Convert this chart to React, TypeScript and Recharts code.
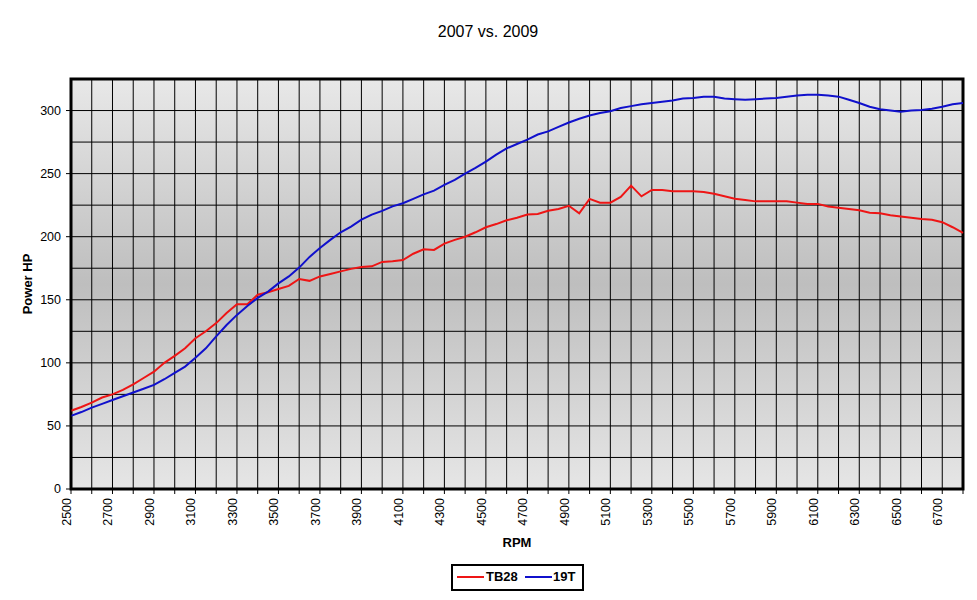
// @ts-nocheck
import { LineChart, Line, XAxis, YAxis, CartesianGrid, ReferenceArea } from 'recharts';

const rpm = [
  2500, 2550, 2600, 2650, 2700, 2750, 2800, 2850, 2900, 2950,
  3000, 3050, 3100, 3150, 3200, 3250, 3300, 3350, 3400, 3450,
  3500, 3550, 3600, 3650, 3700, 3750, 3800, 3850, 3900, 3950,
  4000, 4050, 4100, 4150, 4200, 4250, 4300, 4350, 4400, 4450,
  4500, 4550, 4600, 4650, 4700, 4750, 4800, 4850, 4900, 4950,
  5000, 5050, 5100, 5150, 5200, 5250, 5300, 5350, 5400, 5450,
  5500, 5550, 5600, 5650, 5700, 5750, 5800, 5850, 5900, 5950,
  6000, 6050, 6100, 6150, 6200, 6250, 6300, 6350, 6400, 6450,
  6500, 6550, 6600, 6650, 6700, 6750, 6800,
];

const tb28 = [
  62, 65, 68.5, 72.5, 75, 78.5, 83, 88, 93, 100,
  105.5, 111.5, 119.5, 125, 131.5, 139.5, 146.5, 146.5, 154, 156,
  158.5, 161, 166.5, 165, 168.5, 170.5, 172.5, 174.5, 176, 176.5,
  180, 180.5, 181.5, 186.5, 190, 189.5, 194.5, 197.5, 200, 203.5,
  207.5, 210, 213, 215, 217.5, 218, 220.5, 222, 224.5, 218.5,
  230, 227, 227, 231.5, 240.5, 232, 237, 237, 236, 236,
  236, 235.5, 234, 232, 230, 229, 228, 228, 228, 228,
  227, 226, 226, 224, 223, 222, 221, 219, 218.5, 217,
  216, 215, 214, 213.5, 211.5, 207.5, 203,
];

const t19 = [
  58, 61, 64.5, 67.5, 70.5, 73.5, 76.5, 79.5, 82.5, 87,
  92, 97, 104, 111.5, 121, 130, 138, 145, 151.5, 156.5,
  163, 168.5, 175.5, 184, 191, 197.5, 203.5, 208, 213.5, 217.5,
  220.5, 224, 226.5, 230, 233.5, 236.5, 241, 245, 250, 254.5,
  259.5, 265, 270, 273.5, 277, 281, 283.5, 287, 290.5, 293.5,
  296, 298, 299.5, 302, 303.5, 305, 306, 307, 308, 309.5,
  310, 311, 311, 309.5, 309, 308.5, 309, 309.5, 310, 311,
  312, 312.5, 312.5, 312, 311, 308.5, 306, 303, 301, 300,
  299, 300, 300.5, 301.5, 303, 305, 306,
];

const xTicks = [
  2500, 2600, 2700, 2800, 2900, 3000, 3100, 3200, 3300, 3400, 3500,
  3600, 3700, 3800, 3900, 4000, 4100, 4200, 4300, 4400, 4500, 4600,
  4700, 4800, 4900, 5000, 5100, 5200, 5300, 5400, 5500, 5600, 5700,
  5800, 5900, 6000, 6100, 6200, 6300, 6400, 6500, 6600, 6700, 6800,
];
const xLabels = [2500, 2700, 2900, 3100, 3300, 3500, 3700, 3900, 4100, 4300, 4500, 4700, 4900, 5100, 5300, 5500, 5700, 5900, 6100, 6300, 6500, 6700];

const yTicks = [0, 25, 50, 75, 100, 125, 150, 175, 200, 225, 250, 275, 300, 325];
const yLabels = [0, 50, 100, 150, 200, 250, 300];

const data = rpm.map((r, i) => ({ rpm: r, TB28: tb28[i], '19T': t19[i] }));

const FONT = '"Liberation Sans", Arial, sans-serif';
const RED = '#ee1515';
const BLUE = '#1010cc';

const XTick = ({ x, y, payload }) => {
  if (!xLabels.includes(payload.value)) return <g />;
  return (
    <text
      x={x}
      y={y}
      transform={`rotate(-90 ${x} ${y})`}
      textAnchor="end"
      fontFamily={FONT}
      fontSize={12.5}
      fill="#000"
    >
      {payload.value}
    </text>
  );
};

const YTick = ({ x, y, payload }) => {
  if (!yLabels.includes(payload.value)) return <g />;
  return (
    <g>
      <line x1={x + 5} x2={x + 10} y1={y} y2={y} stroke="#000" />
      <text x={x} y={y} dy="0.35em" textAnchor="end" fontFamily={FONT} fontSize={12.5} fill="#000">
        {payload.value}
      </text>
    </g>
  );
};

const XTitle = ({ viewBox }) => (
  <text
    x={viewBox.x + viewBox.width / 2}
    y={viewBox.y + 58}
    textAnchor="middle"
    fontFamily={FONT}
    fontSize={13}
    fontWeight="bold"
    fill="#000"
  >
    RPM
  </text>
);

const YTitle = ({ viewBox }) => {
  const cx = viewBox.x + 11;
  const cy = viewBox.y + viewBox.height / 2;
  return (
    <text
      x={cx}
      y={cy}
      transform={`rotate(-90 ${cx} ${cy})`}
      textAnchor="middle"
      fontFamily={FONT}
      fontSize={13}
      fontWeight="bold"
      fill="#000"
    >
      Power HP
    </text>
  );
};

export default function App() {
  return (
    <div style={{ position: 'absolute', left: 0, top: 0, width: 977, height: 600, background: '#fff' }}>
      <LineChart width={977} height={600} data={data} margin={{ top: 79, right: 14, bottom: 51, left: 21 }}>
        <defs>
          <linearGradient id="plotBg" x1="0" y1="0" x2="0" y2="1">
            <stop offset="0%" stopColor="#e8e8e8" />
            <stop offset="50%" stopColor="#bebebe" />
            <stop offset="100%" stopColor="#e6e6e6" />
          </linearGradient>
        </defs>
        <CartesianGrid stroke="#000" strokeWidth={1} fill="url(#plotBg)" fillOpacity={1} />
        <XAxis
          dataKey="rpm"
          type="number"
          domain={[2500, 6800]}
          ticks={xTicks}
          interval={0}
          height={60}
          tickSize={5}
          tickMargin={4}
          tick={<XTick />}
          tickLine={{ stroke: '#000' }}
          axisLine={{ stroke: '#000' }}
          label={<XTitle />}
        />
        <YAxis
          type="number"
          domain={[0, 325]}
          ticks={yTicks}
          interval={0}
          width={50}
          tickSize={5}
          tickMargin={5}
          tick={<YTick />}
          tickLine={false}
          axisLine={{ stroke: '#000' }}
          label={<YTitle />}
        />
        <Line type="linear" dataKey="TB28" stroke={RED} strokeWidth={2} dot={false} isAnimationActive={false} />
        <Line type="linear" dataKey="19T" stroke={BLUE} strokeWidth={2} dot={false} isAnimationActive={false} />
        <ReferenceArea x1={2500} x2={6800} y1={0} y2={325} fill="none" stroke="#000" strokeWidth={3} ifOverflow="visible" />
      </LineChart>
      <svg width={977} height={600} style={{ position: 'absolute', left: 0, top: 0, pointerEvents: 'none' }}>
        <text x={488} y={37} textAnchor="middle" fontFamily={FONT} fontSize={16} fill="#000">
          2007 vs. 2009
        </text>
        <rect x={452} y={565} width={131} height={25} fill="#fff" stroke="#000" strokeWidth={2} />
        <line x1={457} x2={484} y1={577} y2={577} stroke={RED} strokeWidth={2} />
        <text x={486} y={581} fontFamily={FONT} fontSize={13} fontWeight="bold" fill="#000">
          TB28
        </text>
        <line x1={525} x2={552} y1={577} y2={577} stroke={BLUE} strokeWidth={2} />
        <text x={553} y={581} fontFamily={FONT} fontSize={13} fontWeight="bold" fill="#000">
          19T
        </text>
      </svg>
    </div>
  );
}
